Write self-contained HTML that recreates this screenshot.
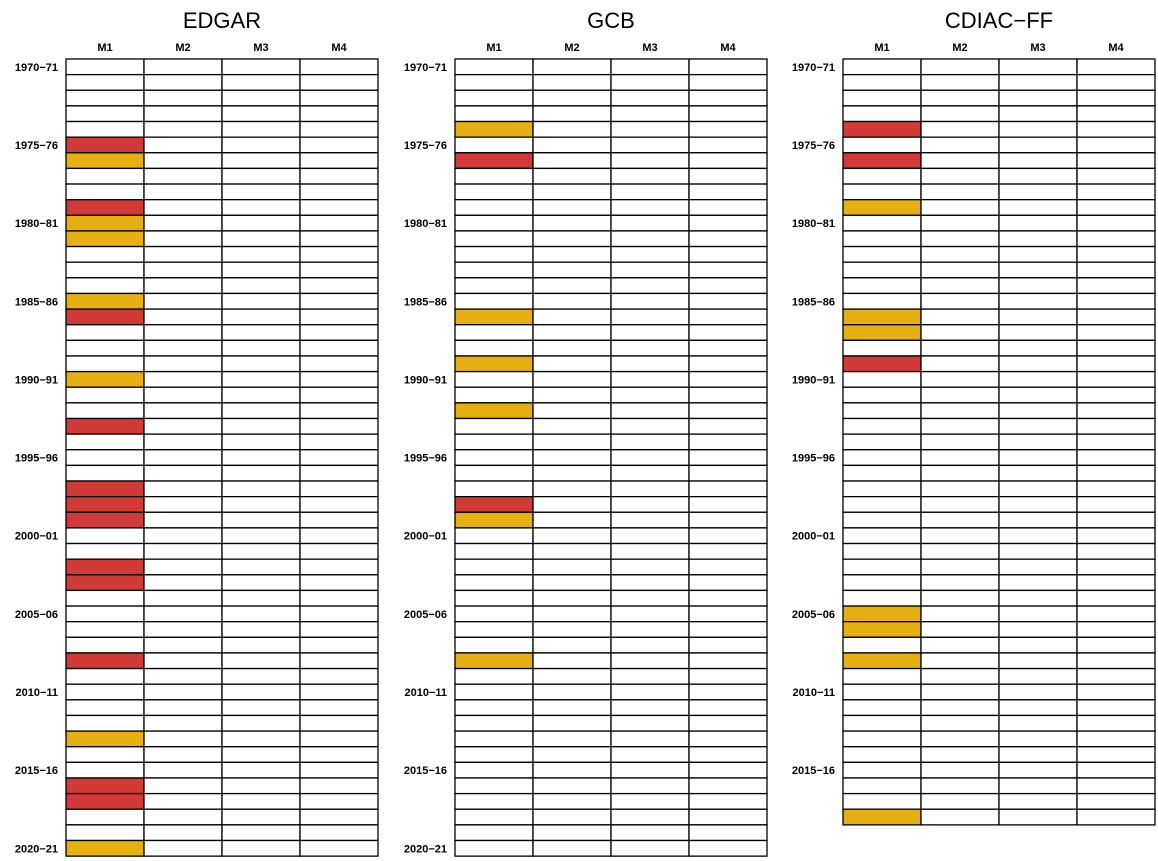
<!DOCTYPE html>
<html><head><meta charset="utf-8"><style>
html,body{margin:0;padding:0;background:#fff;}
svg{display:block;font-family:"Liberation Sans",sans-serif;}
</style></head><body>
<svg id="chart" width="1158" height="861" viewBox="0 0 1158 861"></svg>
<script>
const panels = ["EDGAR","GCB","CDIAC\u2212FF"];
const panelKeys = ["edgar","gcb","cdiac-ff"];
const models = ["M1","M2","M3","M4"];
const rowCounts = [51,51,49];
const startYear = 1970;
const edgarRed = [5,9,16,23,27,28,29,32,33,38,46,47];
const edgarYellow = [6,10,11,15,20,43,50];
const gcbRed = [6,28];
const gcbYellow = [4,16,19,22,29,38];
const cdiacRed = [4,6,19];
const cdiacYellow = [9,16,17,35,36,38,48];
const redSets = [edgarRed,gcbRed,cdiacRed];
const yellowSets = [edgarYellow,gcbYellow,cdiacYellow];

const NS="http://www.w3.org/2000/svg";
const svgEl=document.getElementById('chart');
const panelX=[66,455,843], colW=78, gridTop=59, rowH=15.63;
function mk(t,a){const e=document.createElementNS(NS,t);for(const k in a)e.setAttribute(k,a[k]);svgEl.appendChild(e);return e;}
function yOf(i){return gridTop+i*rowH;}
panels.forEach((p,pi)=>{
  const x0=panelX[pi];
  const t=mk('text',{x:x0+2*colW,y:28,'text-anchor':'middle','font-size':22});
  t.textContent=p;
  
  
  models.forEach((m,mi)=>{
    const h=mk('text',{x:x0+mi*colW+colW/2,y:51,'text-anchor':'middle','font-size':11,'font-weight':'bold'});
    h.textContent=m;
    
    
  });
  for(let i=0;i<rowCounts[pi];i++){
    if(i%5===0){
      const y=startYear+i;
      const l=mk('text',{x:x0-8,y:yOf(i)+rowH/2+4,'text-anchor':'end','font-size':11,'font-weight':'bold'});
      l.textContent=y+'\u2212'+String((y+1)%100).padStart(2,'0');
      
      
    }
    models.forEach((m,mi)=>{
      let fill='#ffffff';
      if(mi===0&&redSets[pi].includes(i))fill='#d13a37';
      if(mi===0&&yellowSets[pi].includes(i))fill='#e6b012';
      const r=mk('rect',{x:x0+mi*colW,y:yOf(i),width:colW,height:rowH,fill:fill,stroke:'#000','stroke-width':1.3});
      
      
    });
  }
});
</script>
</body></html>
